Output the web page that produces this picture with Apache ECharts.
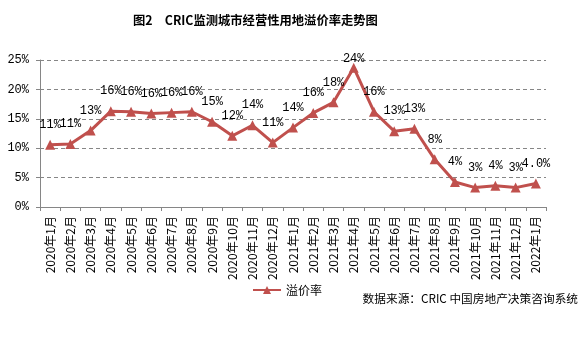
<!DOCTYPE html>
<html>
<head>
<meta charset="utf-8">
<script src="https://cdn.jsdelivr.net/npm/echarts@6/dist/echarts.min.js"></script>
<style>
  html, body { margin: 0; padding: 0; background: #fff; }
  #chart { width: 587px; height: 337px; }
</style>
</head>
<body>
<div id="chart"></div>
<script>
// Monthly categories, Jan 2020 – Jan 2022
const months = [
  '2020年1月', '2020年2月', '2020年3月', '2020年4月', '2020年5月', '2020年6月',
  '2020年7月', '2020年8月', '2020年9月', '2020年10月', '2020年11月', '2020年12月',
  '2021年1月', '2021年2月', '2021年3月', '2021年4月', '2021年5月', '2021年6月',
  '2021年7月', '2021年8月', '2021年9月', '2021年10月', '2021年11月', '2021年12月',
  '2022年1月'
];
// Premium rate of operating land (%)
const premiumRate = [
  10.6, 10.7, 13.0, 16.3, 16.2, 15.9, 16.05, 16.2, 14.5, 12.1, 13.9, 10.95,
  13.5, 16.0, 17.8, 23.7, 16.2, 12.9, 13.3, 8.1, 4.25, 3.3, 3.6, 3.3, 4.0
];
const yTicks = [0, 5, 10, 15, 20, 25];

const seriesName = '溢价率';
const titleText = '图2　CRIC监测城市经营性用地溢价率走势图';
const sourceText = '数据来源：CRIC 中国房地产决策咨询系统';

const numFont = '"Liberation Mono", "Noto Sans CJK SC", monospace';
const cjkFont = '"Noto Sans CJK SC", sans-serif';

const lastIdx = premiumRate.length - 1;
const seriesData = premiumRate.map((v, i) => {
  const item = { value: v };
  if (i === 15) item.label = { distance: -2 };
  return item;
});

const chart = echarts.init(document.getElementById('chart'), null, { renderer: 'canvas' });
chart.setOption({
  backgroundColor: '#ffffff',
  animation: false,
  title: {
    text: titleText,
    left: 128,
    top: 9,
    textStyle: { fontFamily: cjkFont, fontSize: 12.3, fontWeight: 'bold', color: '#000' }
  },
  graphic: [{
    type: 'text',
    right: 9,
    top: 293,
    style: { text: sourceText, font: '11.7px ' + cjkFont, fill: '#000' }
  }],
  legend: {
    data: [seriesName],
    left: 247,
    top: 279,
    itemWidth: 28,
    itemHeight: 10,
    itemGap: 4,
    textStyle: { fontFamily: cjkFont, fontSize: 12, color: '#000' }
  },
  grid: { left: 40, right: 41, top: 60, bottom: 130, containLabel: false },
  xAxis: {
    type: 'category',
    data: months,
    boundaryGap: true,
    axisLine: { lineStyle: { color: '#868686', width: 1 } },
    axisTick: { show: true, length: 4, alignWithLabel: false, lineStyle: { color: '#868686' } },
    axisLabel: {
      interval: 0,
      rotate: 90,
      margin: 9,
      fontFamily: cjkFont,
      fontSize: 12,
      color: '#000'
    }
  },
  yAxis: {
    type: 'value',
    min: yTicks[0],
    max: yTicks[yTicks.length - 1],
    interval: 5,
    axisLine: { show: true, lineStyle: { color: '#868686', width: 1 } },
    axisTick: { show: true, length: 4, lineStyle: { color: '#868686' } },
    axisLabel: {
      margin: 11,
      fontFamily: numFont,
      fontSize: 12,
      color: '#000',
      formatter: v => v + '%'
    },
    splitLine: { show: true, lineStyle: { color: '#868686', type: [4, 3], width: 1 } }
  },
  series: [{
    name: seriesName,
    type: 'line',
    data: seriesData,
    symbol: 'triangle',
    symbolSize: 10,
    color: '#C0504D',
    lineStyle: { color: '#C0504D', width: 3 },
    itemStyle: { color: '#C0504D' },
    label: {
      show: true,
      position: 'top',
      distance: 9,
      fontFamily: numFont,
      fontSize: 12,
      color: '#000',
      formatter: p => (p.dataIndex === lastIdx ? p.value.toFixed(1) : p.value.toFixed(0)) + '%'
    }
  }]
});
</script>
</body>
</html>
